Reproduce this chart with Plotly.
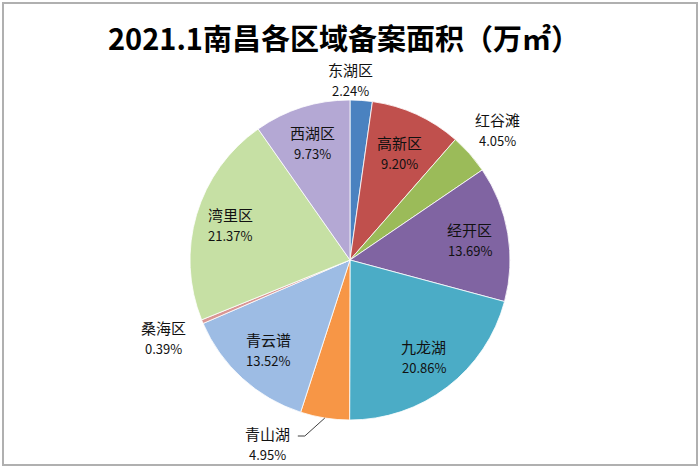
import math
import plotly.graph_objects as go

# ---- data ----
regions = ["东湖区", "高新区", "红谷滩", "经开区", "九龙湖", "青山湖", "青云谱", "桑海区", "湾里区", "西湖区"]
shares = [2.24, 9.20, 4.05, 13.69, 20.86, 4.95, 13.52, 0.39, 21.37, 9.73]
title_text = "2021.1南昌各区域备案面积（万㎡）"

# ---- style ----
colors = ["#4A82C0", "#C0504D", "#9BBB59", "#8064A2", "#4BACC6",
          "#F79646", "#9DBCE4", "#D99694", "#C6E0A4", "#B4A8D4"]
# radial position of each label as fraction of radius (None = leader-line label)
label_radius = [1.13, 0.74, 1.23, 0.76, 0.76, None, 0.76, 1.26, 0.78, 0.77]
# extra horizontal pixel nudge of each label
label_dx = [-12, 0, 0, 0, 0, 0, 0, 0, 0, 0]

W, H = 700, 468
CX, CY, R = 350, 260, 160  # pie centre / radius in pixels

fig = go.Figure(go.Pie(
    labels=regions, values=shares, sort=False, direction="clockwise", rotation=0,
    marker=dict(colors=colors, line=dict(color="white", width=0.8)),
    textinfo="none", hoverinfo="label+percent", showlegend=False,
    domain=dict(x=[(CX - R) / W, (CX + R) / W], y=[1 - (CY + R) / H, 1 - (CY - R) / H]),
))

def px2paper(x, y):
    return x / W, 1 - y / H

annotations = []
shapes = []
total = sum(shares)
cum = 0.0
font_cjk = "Noto Sans CJK SC"
for name, v, k, dx in zip(regions, shares, label_radius, label_dx):
    mid = (cum + v / 2) / total * 2 * math.pi
    cum += v
    sx, sy = math.sin(mid), -math.cos(mid)
    if k is not None:
        lx, ly = CX + k * R * sx + dx, CY + k * R * sy
    else:
        # leader line label
        ex, ey = CX + R * sx, CY + R * sy
        bx, by = ex - 20, ey + 18
        hx = bx - 7
        for (x0, y0, x1, y1) in [(ex, ey, bx, by), (bx, by, hx, by)]:
            p0 = px2paper(x0, y0); p1 = px2paper(x1, y1)
            shapes.append(dict(type="line", xref="paper", yref="paper",
                               x0=p0[0], y0=p0[1], x1=p1[0], y1=p1[1],
                               line=dict(color="#404040", width=1)))
        lx, ly = hx - 30, by + 7
    px, py = px2paper(lx, ly)
    annotations.append(dict(x=px, y=py, xref="paper", yref="paper", text=name,
                            showarrow=False, xanchor="center", yanchor="middle", yshift=10,
                            font=dict(family=font_cjk, size=15, color="#111111")))
    annotations.append(dict(x=px, y=py, xref="paper", yref="paper", text=f"{v:.2f}%",
                            showarrow=False, xanchor="center", yanchor="middle", yshift=-11,
                            font=dict(family=font_cjk, size=13, color="#111111")))

annotations.append(dict(x=344 / W, y=1 - 37 / H, xref="paper", yref="paper", text=f"<b>{title_text}</b>",
                        showarrow=False, xanchor="center", yanchor="middle",
                        font=dict(family=font_cjk, size=29, color="#000000")))

# outer frame
shapes.append(dict(type="rect", xref="paper", yref="paper",
                   x0=3 / W, x1=1 - 3 / W, y0=3 / H, y1=1 - 3 / H,
                   line=dict(color="#B0B0B0", width=2), fillcolor="rgba(0,0,0,0)"))

fig.update_layout(width=W, height=H, margin=dict(l=0, r=0, t=0, b=0),
                  paper_bgcolor="white", plot_bgcolor="white",
                  annotations=annotations, shapes=shapes)

fig.write_html("out.html")
